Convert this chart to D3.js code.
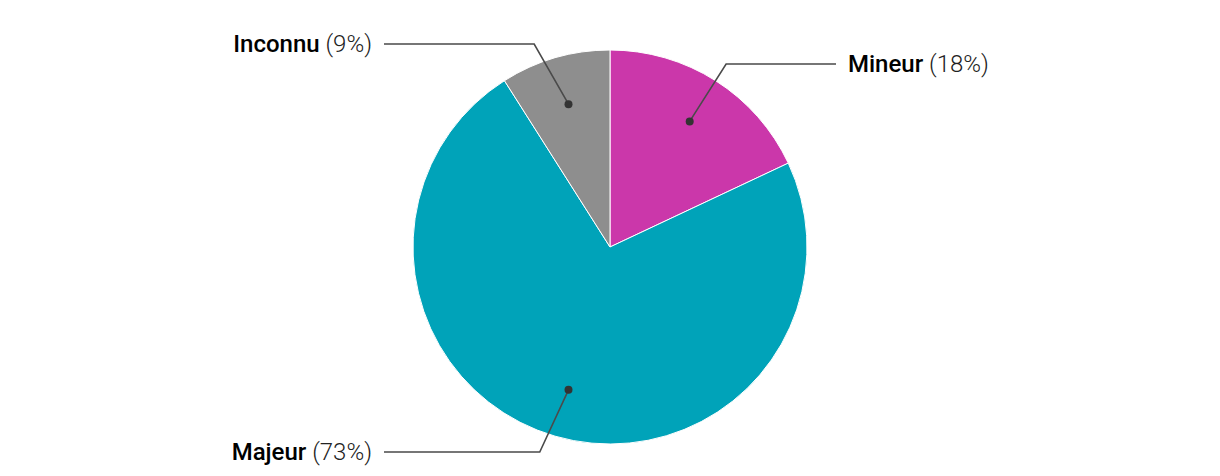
<!DOCTYPE html>
<html>
<head>
<meta charset="utf-8">
<script src="https://cdn.jsdelivr.net/npm/d3@7"></script>
<style>
  body { margin: 0; background: #fff; }
  svg { display: block; font-family: Roboto, "Noto Sans", sans-serif; }
</style>
</head>
<body>
<div id="chart"></div>
<script>
"use strict";

// data
var categories = ["Mineur", "Majeur", "Inconnu"];
var shares = [18, 73, 9];
var sliceColors = ["#cb37aa", "#00a3b9", "#8e8e8e"];

var width = 1220,
    height = 476,
    cx = 610,
    cy = 247,
    radius = 197;

var svg = d3.select("#chart")
  .append("svg")
  .attr("width", width)
  .attr("height", height);

var g = svg.append("g")
  .attr("transform", "translate(" + cx + "," + cy + ")");

var pie = d3.pie().sort(null).value(function(d) { return d; });
var arcs = pie(shares);

var arc = d3.arc().innerRadius(0).outerRadius(radius);
var color = d3.scaleOrdinal().domain(categories).range(sliceColors);

g.selectAll("path.slice")
  .data(arcs)
  .enter().append("path")
  .attr("class", "slice")
  .attr("d", arc)
  .style("fill", function(d, i) { return color(categories[i]); })
  .style("stroke", "#fff")
  .style("stroke-width", 1);

// label leader lines
var dotR = radius * 0.755,
    elbowR = radius * 1.1,
    lineX = 226,
    minY = 44 - cy,
    maxY = 452 - cy;

function mid(d) { return (d.startAngle + d.endAngle) / 2; }

var labels = arcs.map(function(d, i) {
  var a = mid(d);
  var dot = [dotR * Math.sin(a), -dotR * Math.cos(a)];
  var ey = -elbowR * Math.cos(a);
  ey = Math.max(minY, Math.min(maxY, ey));
  var side = Math.sin(a) >= 0 ? 1 : -1;
  var ex = side * Math.sqrt(Math.max(0, elbowR * elbowR - ey * ey));
  return { name: categories[i], share: shares[i], dot: dot, elbow: [ex, ey], end: [side * lineX, ey], side: side };
});

var line = d3.line();

g.selectAll("path.leader")
  .data(labels)
  .enter().append("path")
  .attr("class", "leader")
  .attr("d", function(d) { return line([d.dot, d.elbow, d.end]); })
  .style("fill", "none")
  .style("stroke", "#4a4a4a")
  .style("stroke-width", 1.6);

g.selectAll("circle.dot")
  .data(labels)
  .enter().append("circle")
  .attr("class", "dot")
  .attr("cx", function(d) { return d.dot[0]; })
  .attr("cy", function(d) { return d.dot[1]; })
  .attr("r", 4)
  .style("fill", "#333");

var txt = g.selectAll("text.label")
  .data(labels)
  .enter().append("text")
  .attr("class", "label")
  .attr("x", function(d) { return d.end[0] + d.side * 12; })
  .attr("y", function(d) { return d.end[1] + 8; })
  .attr("text-anchor", function(d) { return d.side > 0 ? "start" : "end"; })
  .style("font-size", "24px");

txt.append("tspan")
  .style("font-weight", "500")
  .style("fill", "#000")
  .text(function(d) { return d.name; });

txt.append("tspan")
  .style("font-weight", "300")
  .style("fill", "#222")
  .text(function(d) { return " (" + d.share + "%)"; });
</script>
</body>
</html>
